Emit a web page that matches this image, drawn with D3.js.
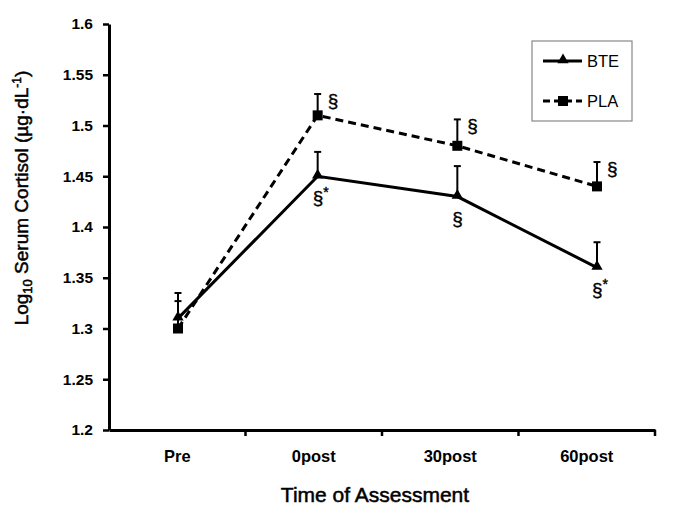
<!DOCTYPE html>
<html><head><meta charset="utf-8">
<script src="https://cdn.jsdelivr.net/npm/d3@7"></script>
<style>
body{margin:0;background:#fff;}
svg{display:block;font-family:"Liberation Sans",Arial,sans-serif;}
</style></head>
<body><svg id="c" width="685" height="517"></svg>
<script>
const categories = ["Pre","0post","30post","60post"];
const bteValues = [1.31, 1.45, 1.43, 1.36];
const bteErr = [0.025, 0.024, 0.030, 0.025];
const plaValues = [1.30, 1.51, 1.48, 1.44];
const plaErr = [0.027, 0.021, 0.026, 0.024];
const yTicks = [1.2,1.25,1.3,1.35,1.4,1.45,1.5,1.55,1.6];
const bteMarks = ["", "§*", "§", "§*"];
const plaMarks = ["", "§", "§", "§"];

const svg = d3.select("#c");
const x = d3.scaleBand().domain(categories).range([109,655]).padding(0);
const xp = d3.scalePoint().domain(categories).range([178,597]);
const y = d3.scaleLinear().domain([1.2,1.6]).range([430,24]);

// y axis
const ya = svg.append("g").attr("transform","translate(109,0)")
  .call(d3.axisLeft(y).tickValues(yTicks).tickSize(6).tickSizeOuter(0).tickFormat(d=>String(+d.toFixed(2))));
ya.select(".domain").attr("stroke","#000").attr("stroke-width",3);
ya.selectAll(".tick line").attr("stroke","#000").attr("stroke-width",2.5);
ya.selectAll(".tick text").attr("font-size",15.5).attr("font-weight","bold").attr("fill","#000").attr("x",-16);

// x axis
const xa = svg.append("g").attr("transform","translate(0,430)")
  .call(d3.axisBottom(x).tickSize(0).tickSizeOuter(0));
xa.select(".domain").attr("stroke","#000").attr("stroke-width",3);
xa.selectAll(".tick text").attr("font-size",16.5).attr("font-weight","bold").attr("fill","#000")
  .attr("y",32).attr("dy",0);
// boundary ticks
svg.append("g").selectAll("line").data(categories).join("line")
  .attr("x1",d=>x(d)+x.bandwidth()).attr("x2",d=>x(d)+x.bandwidth())
  .attr("y1",430).attr("y2",436).attr("stroke","#000").attr("stroke-width",2.5);

// titles
svg.append("text").attr("x",375).attr("y",502).attr("text-anchor","middle")
  .attr("font-size",21).attr("stroke","#000").attr("stroke-width",0.5).text("Time of Assessment");
const yt = svg.append("text").attr("transform","translate(28,198) rotate(-90)")
  .attr("text-anchor","middle").attr("font-size",19).attr("stroke","#000").attr("stroke-width",0.5);
yt.append("tspan").text("Log");
yt.append("tspan").attr("font-size",13).attr("dy",4).text("10");
yt.append("tspan").attr("dy",-4).text(" Serum Cortisol (µg·dL");
yt.append("tspan").attr("font-size",12).attr("dy",-7).text("-1");
yt.append("tspan").attr("dy",7).text(")");

// error bars
function errBars(vals, errs){
  const g = svg.append("g").attr("stroke","#000").attr("stroke-width",2);
  vals.forEach((v,i)=>{
    const xx = xp(categories[i]);
    g.append("line").attr("x1",xx).attr("x2",xx).attr("y1",y(v)).attr("y2",y(v+errs[i]));
    g.append("line").attr("x1",xx-3.5).attr("x2",xx+3.5).attr("y1",y(v+errs[i])).attr("y2",y(v+errs[i]));
  });
}
errBars(plaValues, plaErr);
errBars(bteValues, bteErr);

const line = d3.line().x((d,i)=>xp(categories[i])).y(d=>y(d));
svg.append("path").datum(plaValues).attr("d",line).attr("fill","none")
  .attr("stroke","#000").attr("stroke-width",3).attr("stroke-dasharray","8,5");
svg.append("path").datum(bteValues).attr("d",line).attr("fill","none")
  .attr("stroke","#000").attr("stroke-width",3);

const tri = d3.symbol().type(d3.symbolTriangle).size(55);
svg.append("g").selectAll("path").data(bteValues).join("path")
  .attr("d",tri).attr("transform",(d,i)=>`translate(${xp(categories[i])},${y(d)-1})`).attr("fill","#000");
svg.append("g").selectAll("rect").data(plaValues).join("rect")
  .attr("x",(d,i)=>xp(categories[i])-5).attr("y",d=>y(d)-5).attr("width",10).attr("height",10).attr("fill","#000");

// significance marks
const markFont = 19;
svg.append("g").selectAll("text").data(plaValues).join("text")
  .attr("x",(d,i)=>xp(categories[i])+10).attr("y",(d,i)=>y(d+plaErr[i])+13)
  .attr("font-size",markFont).attr("fill","#000").attr("stroke","#000").attr("stroke-width",0.4)
  .text((d,i)=>plaMarks[i]);
svg.append("g").selectAll("text").data(bteValues).join("text")
  .attr("x",(d,i)=>xp(categories[i])-5).attr("y",d=>y(d)+28)
  .attr("font-size",markFont).attr("fill","#000").attr("stroke","#000").attr("stroke-width",0.4)
  .each(function(d,i){
    const t=d3.select(this); const m=bteMarks[i];
    if(!m) return;
    t.append("tspan").text("§");
    if(m.length>1) t.append("tspan").attr("dy",-7).attr("font-size",14).text("*");
  });

// legend
const lg = svg.append("g");
lg.append("rect").attr("x",532).attr("y",41).attr("width",100).attr("height",80)
  .attr("fill","#fff").attr("stroke","#888").attr("stroke-width",1.2);
lg.append("line").attr("x1",543).attr("x2",582).attr("y1",61).attr("y2",61).attr("stroke","#000").attr("stroke-width",3);
lg.append("path").attr("d",tri).attr("transform","translate(563,60)");
lg.append("text").attr("x",587).attr("y",67).attr("font-size",16.5).text("BTE");
lg.append("line").attr("x1",543).attr("x2",582).attr("y1",101).attr("y2",101).attr("stroke","#000").attr("stroke-width",3).attr("stroke-dasharray","7,4");
lg.append("rect").attr("x",558).attr("y",96).attr("width",10).attr("height",10);
lg.append("text").attr("x",587).attr("y",107).attr("font-size",16.5).text("PLA");
</script></body></html>
